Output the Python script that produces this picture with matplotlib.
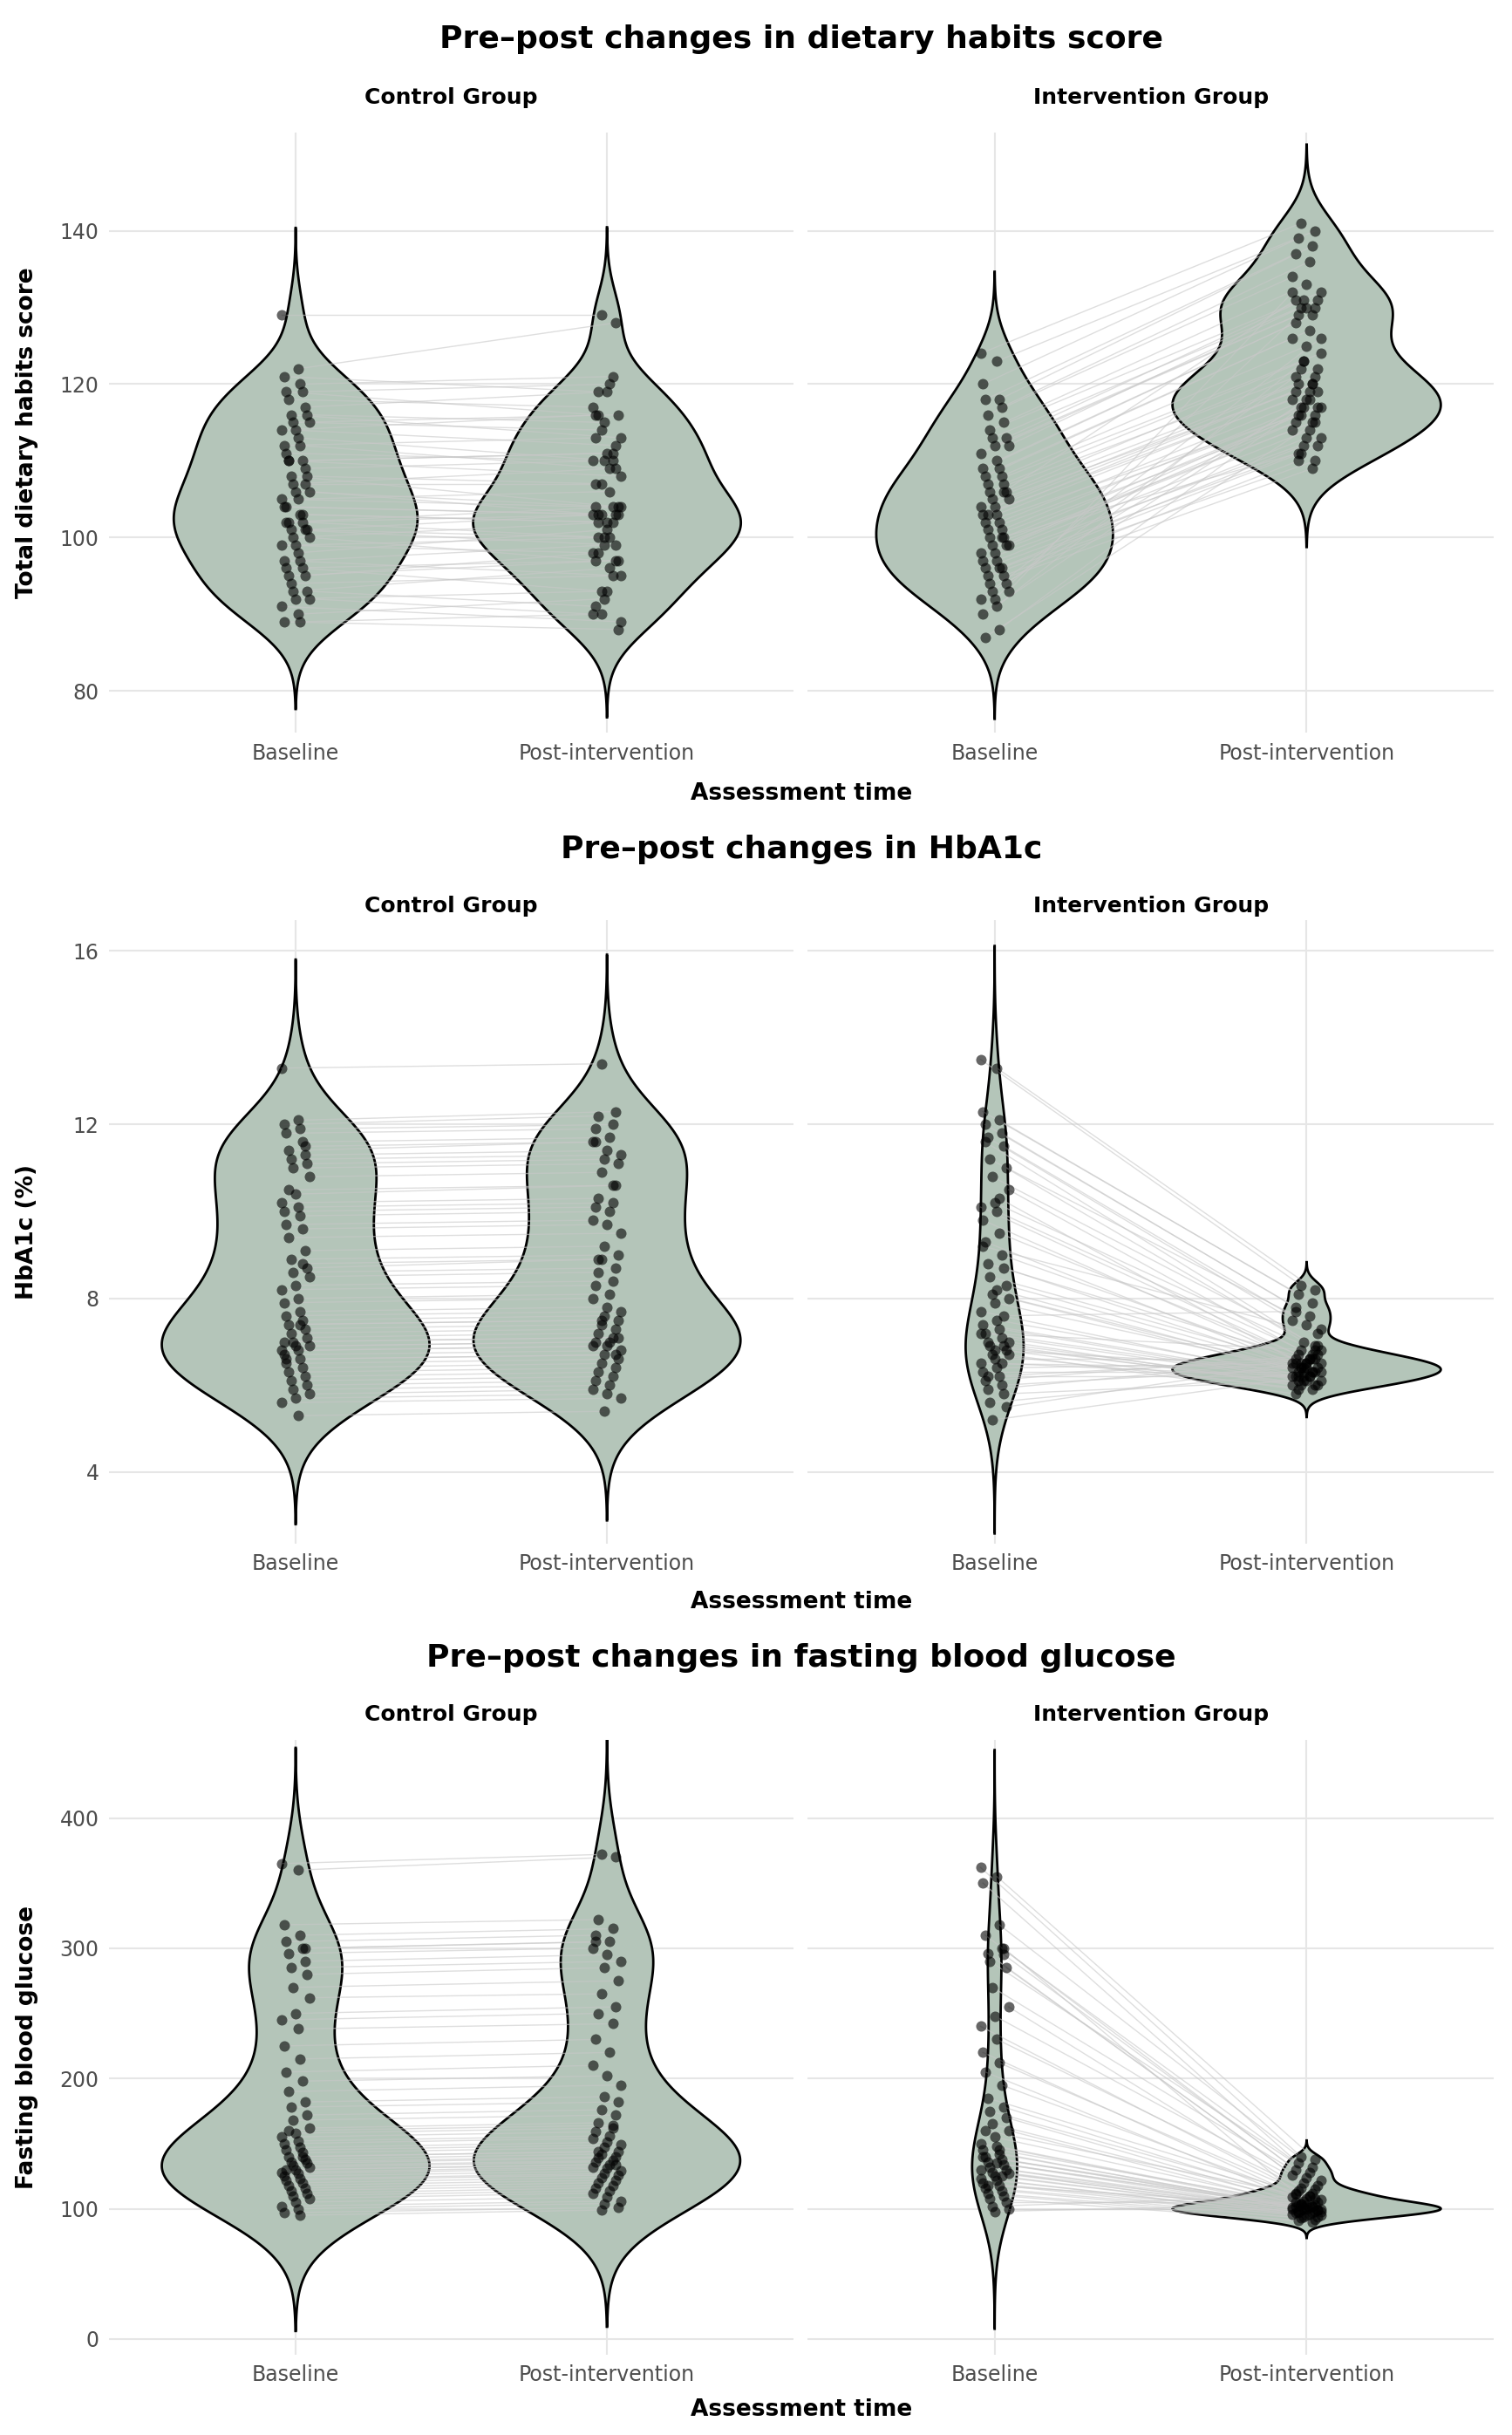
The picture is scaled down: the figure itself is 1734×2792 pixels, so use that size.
import numpy as np
import matplotlib.pyplot as plt

times = ["Baseline", "Post-intervention"]
groups = ["Control Group", "Intervention Group"]

diet_ctrl_base = [129,122,121,120,119,119,118,117,116,116,
                  115,115,114,114,113,112,112,111,110,110,
                  109,108,108,107,106,106,105,105,104,103,
                  102,102,102,101,101,101,100,100,99,99,
                  98,97,97,96,96,95,95,94,93,93,
                  92,92,91,90,89,89,104,103,110,107]
diet_ctrl_post = [129,128,119,121,116,120,117,119,113,115,
                  116,114,112,116,110,113,109,110,111,108,
                  110,104,107,109,103,104,104,106,103,102,
                  104,100,103,103,99,100,102,97,100,98,
                  101,95,99,97,93,97,98,95,91,96,
                  90,93,89,92,88,90,103,102,111,107]
diet_int_base = [124,123,120,118,118,117,116,115,114,113,
                 113,112,112,111,110,109,109,108,108,107,
                 107,106,106,105,105,104,104,103,103,102,
                 102,101,101,100,100,99,99,99,98,98,
                 97,97,96,96,96,95,95,94,94,93,
                 93,92,92,91,90,88,87,100,103,106]
diet_int_post = [141,140,139,138,137,136,134,133,132,131,
                 131,130,130,129,129,128,127,126,125,124,
                 123,122,122,121,120,120,119,119,118,118,
                 117,117,117,116,116,116,115,115,114,114,
                 113,113,112,112,111,110,110,109,121,118,
                 132,130,126,123,119,117,115,111,120,131]

hba_ctrl_base = [13.3,12.1,12.0,11.9,11.8,11.6,11.4,11.3,11.2,11.1,
                 11.0,10.8,10.4,10.2,10.1,10.0,9.9,9.7,9.6,9.4,
                 9.1,8.9,8.7,8.6,8.5,8.3,8.2,8.0,7.9,7.7,
                 7.6,7.5,7.4,7.3,7.2,7.1,7.0,6.9,6.9,6.8,
                 6.8,6.7,6.6,6.5,6.4,6.3,6.2,6.1,6.0,5.9,
                 5.8,5.7,5.6,5.3,7.0,7.4,6.6,8.8,10.5,11.5]
hba_ctrl_post = [13.4,12.3,12.2,12.0,11.9,11.7,11.6,11.4,11.3,11.2,
                 11.1,10.9,10.6,10.3,10.2,10.1,10.0,9.8,9.7,9.5,
                 9.2,9.0,8.9,8.7,8.6,8.4,8.3,8.1,8.0,7.8,
                 7.7,7.6,7.5,7.4,7.3,7.2,7.1,7.0,7.0,6.9,
                 6.9,6.8,6.7,6.6,6.5,6.4,6.3,6.2,6.1,6.0,
                 5.9,5.8,5.7,5.4,7.1,7.5,6.7,8.9,10.6,11.6]
hba_int_base = [13.5,13.3,12.3,12.1,12.0,11.8,11.7,11.5,11.2,11.0,
                10.8,10.5,10.2,10.1,10.0,9.8,9.5,9.3,9.0,8.8,
                8.7,8.5,8.3,8.1,8.0,7.9,7.7,7.5,7.4,7.3,
                7.2,7.1,7.0,6.9,6.9,6.8,6.7,6.7,6.6,6.5,
                6.4,6.3,6.2,6.1,6.0,5.9,5.8,5.6,5.5,5.2,
                7.0,6.8,7.2,8.2,9.2,10.3,11.6,6.5,6.2,7.6]
hba_int_post = [8.3,8.2,8.1,7.9,7.8,7.6,7.5,7.4,7.3,7.0,
                6.9,6.8,6.8,6.7,6.7,6.6,6.6,6.5,6.5,6.5,
                6.4,6.4,6.4,6.3,6.3,6.3,6.2,6.2,6.2,6.1,
                6.1,6.1,6.0,6.0,6.0,5.9,5.9,5.8,6.6,6.4,
                6.5,6.3,6.2,6.7,6.4,6.6,6.1,6.3,6.5,6.2,
                6.0,6.4,6.8,6.3,7.2,6.5,6.9,6.2,6.6,7.7]

fbg_ctrl_base = [365,360,318,310,305,300,296,290,285,280,
                 270,262,250,245,238,225,215,205,198,190,
                 182,178,172,168,162,158,155,152,150,147,
                 145,143,140,138,136,135,133,132,130,128,
                 127,125,123,122,120,118,116,114,112,110,
                 108,105,102,100,97,95,130,140,160,300]
fbg_ctrl_post = [372,370,322,315,310,305,300,295,290,285,
                 275,265,255,250,242,230,220,210,202,195,
                 186,182,176,172,166,162,159,156,154,151,
                 149,147,144,142,140,139,137,136,134,132,
                 131,129,127,126,124,122,120,118,116,114,
                 112,109,106,104,101,99,134,144,164,305]
fbg_int_base = [362,355,350,318,310,300,296,295,290,285,
                270,255,248,240,230,220,212,205,195,185,
                178,175,170,165,160,155,150,148,145,142,
                140,138,136,134,132,130,128,127,125,123,
                122,120,118,116,114,112,110,108,105,102,
                100,98,130,135,140,145,160,125,118,300]
fbg_int_post = [140,138,135,132,130,128,126,124,122,120,
                118,116,115,114,112,111,110,109,108,107,
                106,105,104,103,103,102,102,101,101,100,
                100,100,99,99,98,98,97,97,96,96,
                95,95,94,94,93,92,91,90,105,110,
                100,103,98,101,99,104,108,97,102,112]

panels = [
    dict(title="Pre\u2013post changes in dietary habits score", ylabel="Total dietary habits score",
         data=[(diet_ctrl_base, diet_ctrl_post), (diet_int_base, diet_int_post)],
         ticks=[80, 100, 120, 140], ylim=(74.5, 152.8),
         top=0.9455, bottom=0.699, ttl=0.984, fct=0.960, xl=0.674),
    dict(title="Pre\u2013post changes in HbA1c", ylabel="HbA1c (%)",
         data=[(hba_ctrl_base, hba_ctrl_post), (hba_int_base, hba_int_post)],
         ticks=[4, 8, 12, 16], ylim=(2.35, 16.7),
         top=0.622, bottom=0.366, ttl=0.651, fct=0.628, xl=0.342),
    dict(title="Pre\u2013post changes in fasting blood glucose", ylabel="Fasting blood glucose",
         data=[(fbg_ctrl_base, fbg_ctrl_post), (fbg_int_base, fbg_int_post)],
         ticks=[0, 100, 200, 300, 400], ylim=(-12, 460),
         top=0.2855, bottom=0.033, ttl=0.319, fct=0.296, xl=0.0105),
]

fill = "#b4c5b9"


def kde(vals):
    v = np.asarray(vals, float)
    n = len(v)
    iqr = np.subtract(*np.percentile(v, [75, 25]))
    bw = 0.9 * min(v.std(ddof=1), iqr / 1.34) * n ** -0.2
    y = np.linspace(v.min() - 3 * bw, v.max() + 3 * bw, 400)
    d = np.exp(-0.5 * ((y[:, None] - v[None, :]) / bw) ** 2).sum(1) / (n * bw * np.sqrt(2 * np.pi))
    return y, d


fig = plt.figure(figsize=(17.34, 27.92), dpi=100)
lefts = [(0.072, 0.453), (0.534, 0.454)]

for p in panels:
    fig.text(0.53, p["ttl"], p["title"], ha="center", va="center", fontsize=26, fontweight="bold")
    fig.text(0.53, p["xl"], "Assessment time", ha="center", va="center", fontsize=19, fontweight="bold")
    fig.text(0.018, (p["top"] + p["bottom"]) / 2, p["ylabel"], rotation=90, ha="center", va="center",
             fontsize=19, fontweight="bold")
    for g, (x0, w) in enumerate(lefts):
        ax = fig.add_axes([x0, p["bottom"], w, p["top"] - p["bottom"]])
        base, post = p["data"][g]
        dens = [kde(base), kde(post)]
        dmax = max(d.max() for _, d in dens)
        for k, (y, d) in enumerate(dens):
            hw = 0.43 * d / dmax
            xs = np.concatenate([k + 1 - hw, (k + 1 + hw)[::-1]])
            ys = np.concatenate([y, y[::-1]])
            ax.fill(xs, ys, facecolor=fill, edgecolor="black", lw=2.0, zorder=2)
        jit = np.array([((i * 7) % 13 - 6) / 6 * 0.045 for i in range(len(base))])
        jit2 = np.array([((i * 5 + 3) % 11 - 5) / 5 * 0.045 for i in range(len(post))])
        xb = 1 + jit
        xp = 2 + jit2
        for i in range(len(base)):
            ax.plot([xb[i], xp[i]], [base[i], post[i]], color="#c8c8c8", lw=1.0, alpha=0.6, zorder=3)
        ax.scatter(xb, base, s=75, color="black", alpha=0.6, lw=0, zorder=4)
        ax.scatter(xp, post, s=75, color="black", alpha=0.6, lw=0, zorder=4)
        ax.set_xlim(0.4, 2.6)
        ax.set_ylim(*p["ylim"])
        ax.set_xticks([1, 2])
        ax.set_xticklabels(times)
        ax.set_yticks(p["ticks"])
        if g == 1:
            ax.set_yticklabels([])
        ax.grid(True, color="#e6e6e6", lw=1.5, zorder=0)
        ax.set_axisbelow(True)
        for s in ax.spines.values():
            s.set_visible(False)
        ax.tick_params(length=0, labelsize=17, labelcolor="#4d4d4d", pad=8)
        fig.text(x0 + w / 2, p["fct"], groups[g], ha="center", va="center", fontsize=18, fontweight="bold")

fig.savefig("out.png", dpi=100, facecolor="white")
